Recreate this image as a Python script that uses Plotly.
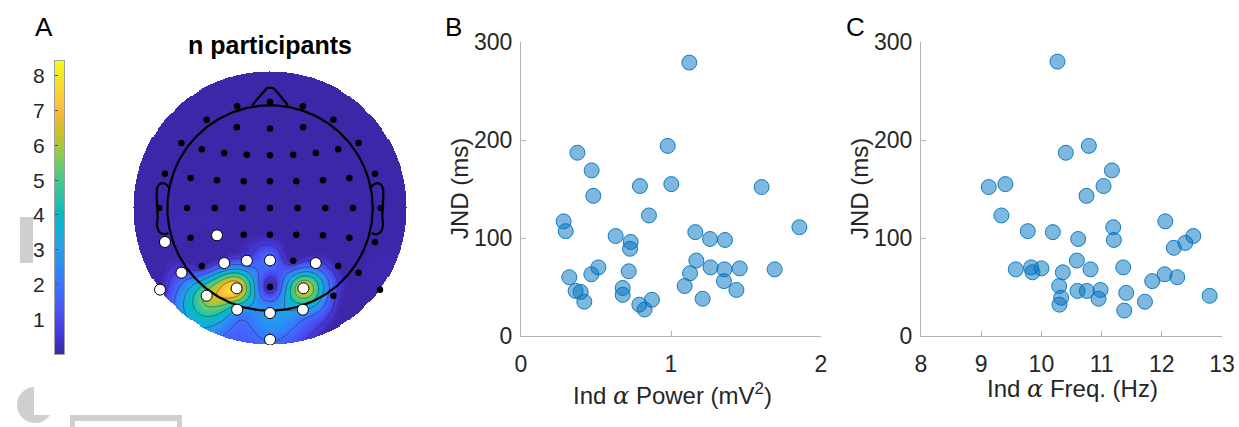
import numpy as np
import plotly.graph_objects as go

# ---------------- data ----------------
# Panel B: individual alpha power (mV^2) vs JND (ms)
power_x = [1.122, 0.978, 0.376, 0.471, 0.793, 1.002, 1.604, 0.482, 0.853, 0.284,
           0.298, 0.631, 0.731, 0.727, 1.162, 1.856, 1.260, 1.360, 0.322, 0.364,
           0.398, 0.422, 0.469, 0.516, 0.678, 0.678, 0.718, 0.789, 0.824, 0.873,
           1.091, 1.127, 1.169, 1.211, 1.264, 1.356, 1.353, 1.436, 1.458, 1.691]
power_jnd = [279, 194, 187, 169, 153, 155, 152, 143, 123, 117,
             107, 102, 96, 89, 106, 111, 99, 98, 60, 46,
             45, 35, 63, 70, 49, 42, 66, 32, 27, 37,
             51, 64, 77, 38, 70, 68, 56, 47, 69, 68]

# Panel C: individual alpha frequency (Hz) vs JND (ms)
freq_x = [10.267, 10.788, 10.406, 11.171, 11.032, 10.749, 9.125, 9.402, 9.336, 9.774,
          10.190, 12.058, 11.193, 11.204, 10.611, 12.523, 12.390, 12.200, 9.574, 9.829,
          9.851, 10.001, 10.356, 10.589, 10.816, 11.359, 10.295, 10.328, 10.300, 10.600,
          10.755, 10.982, 10.949, 11.409, 11.376, 11.720, 11.841, 12.047, 12.257, 12.795]
freq_jnd = [280, 194, 187, 169, 153, 143, 152, 155, 123, 107,
            106, 117, 111, 98, 99, 102, 95, 90, 68, 70,
            65, 69, 65, 77, 68, 70, 51, 39, 32, 46,
            46, 47, 38, 44, 26, 35, 56, 63, 60, 41]

# Panel A: electrode positions (head radius = 1) and n participants per electrode
elec_names = ["Fpz", "Fp1", "Fp2", "AF7", "AF8", "AF3", "AFz", "AF4", "F7", "F8",
              "F5", "F3", "F1", "Fz", "F2", "F4", "F6", "FT7", "FT8",
              "FC5", "FC3", "FC1", "FCz", "FC2", "FC4", "FC6",
              "T7", "C5", "C3", "C1", "Cz", "C2", "C4", "C6", "T8",
              "TP7", "CP5", "CP3", "CP1", "CPz", "CP2", "CP4", "CP6", "TP8",
              "P7", "P5", "P3", "P1", "Pz", "P2", "P4", "P6", "P8",
              "P9", "PO7", "PO3", "POz", "PO4", "PO8", "P10",
              "O1", "Oz", "O2", "Iz"]
elec_x = [0.0, -0.32, 0.32, -0.617, 0.617, -0.323, 0.0, 0.323, -0.862, 0.862,
          -0.664, -0.446, -0.226, 0.0, 0.226, 0.446, 0.664, -1.023, 1.023,
          -0.773, -0.516, -0.256, 0.0, 0.256, 0.516, 0.773,
          -1.078, -0.808, -0.539, -0.269, 0.0, 0.269, 0.539, 0.808, 1.078,
          -1.023, -0.773, -0.516, -0.256, 0.0, 0.256, 0.516, 0.773, 1.023,
          -0.862, -0.664, -0.446, -0.226, 0.0, 0.226, 0.446, 0.664, 0.862,
          -1.071, -0.617, -0.325, 0.0, 0.325, 0.617, 1.071,
          -0.32, 0.0, 0.32, 0.0]
elec_y = [1.032, 0.99, 0.99, 0.86, 0.86, 0.786, 0.773, 0.786, 0.633, 0.633,
          0.571, 0.536, 0.519, 0.513, 0.519, 0.536, 0.571, 0.334, 0.334,
          0.292, 0.269, 0.26, 0.26, 0.26, 0.269, 0.292,
          0.0, 0.0, 0.0, 0.0, 0.0, 0.0, 0.0, 0.0, 0.0,
          -0.331, -0.289, -0.266, -0.26, -0.26, -0.26, -0.266, -0.289, -0.331,
          -0.63, -0.565, -0.536, -0.513, -0.51, -0.513, -0.536, -0.565, -0.63,
          -0.795, -0.854, -0.782, -0.769, -0.782, -0.854, -0.795,
          -0.99, -1.023, -0.99, -1.282]
elec_n = [0, 0, 0, 0, 0, 0, 0, 0, 0, 0,
          0, 0, 0, 0, 0, 0, 0, 0, 0,
          0, 0, 0, 0, 0, 0, 0,
          0, 0, 0, 0, 0, 0, 0, 0, 0,
          0, 0, 0, 0, 0, 0, 0, 0, 0,
          1, 0, 1, 1, 2, 0, 1, 0, 0,
          0, 6, 8, 0, 7, 1, 0,
          3, 3, 3, 2]
# highlighted electrodes (white markers)
highlight = ["TP7", "CP3", "P7", "P3", "P1", "Pz", "P4", "P9", "PO7", "PO3", "PO4",
             "O1", "Oz", "O2", "Iz"]

# colour limits
color_min = 0.0
color_max = 8.43
colorbar_ticks = [1, 2, 3, 4, 5, 6, 7, 8]

# ---------------- styling helpers ----------------
W, H = 1239, 427
def px(x):
    return x / W
def py(y):
    return 1 - y / H

parula = [
    [0.2422, 0.1504, 0.6603], [0.2647, 0.1978, 0.7952], [0.2783, 0.2559, 0.8991],
    [0.2810, 0.3228, 0.9579], [0.2699, 0.3892, 0.9906], [0.2206, 0.4603, 0.9973],
    [0.1786, 0.5289, 0.9682], [0.1540, 0.5902, 0.9218], [0.1248, 0.6459, 0.8883],
    [0.0689, 0.6948, 0.8394], [0.0067, 0.7312, 0.7660], [0.1408, 0.7584, 0.6842],
    [0.2161, 0.7843, 0.5923], [0.3406, 0.8008, 0.4789], [0.5044, 0.7993, 0.3480],
    [0.6720, 0.7793, 0.2227], [0.8203, 0.7498, 0.1535], [0.9393, 0.7288, 0.2100],
    [0.9970, 0.7659, 0.2199], [0.9786, 0.8386, 0.1766], [0.9597, 0.9135, 0.1423],
    [0.9769, 0.9839, 0.0805]]
cscale = [[i / (len(parula) - 1), "rgb(%d,%d,%d)" % tuple(int(round(c * 255)) for c in rgb)]
          for i, rgb in enumerate(parula)]

# ---------------- topographic interpolation (biharmonic spline, as griddata 'v4') ----------------
R_OUT = 1.334          # plotting radius in head-radius units
SQ = 0.5 / R_OUT       # EEGLAB-style squeeze: plotting radius -> 0.5
ex = np.array(elec_x) * SQ
ey = np.array(elec_y) * SQ
ev = np.array(elec_n, dtype=float)

def green(d):
    with np.errstate(divide="ignore", invalid="ignore"):
        g = d ** 2 * (np.log(d) - 1.0)
    g[d == 0] = 0.0
    return g

D = np.hypot(ex[:, None] - ex[None, :], ey[:, None] - ey[None, :])
wts = np.linalg.solve(green(D), ev)

ng = 261
gx = np.linspace(-R_OUT, R_OUT, ng)
GX, GY = np.meshgrid(gx, gx)
Dg = np.hypot(GX.ravel()[:, None] * SQ - ex[None, :], GY.ravel()[:, None] * SQ - ey[None, :])
Z = (green(Dg) @ wts).reshape(ng, ng)
Z[np.hypot(GX, GY) > R_OUT] = np.nan

fig = go.Figure()

# topo map
fig.add_trace(go.Heatmap(x=gx, y=gx, z=Z, colorscale=cscale, zmin=color_min, zmax=color_max,
                         showscale=False, xaxis="x3", yaxis="y3", hoverinfo="skip"))
fig.add_trace(go.Contour(x=gx, y=gx, z=Z, xaxis="x3", yaxis="y3", showscale=False,
                         contours=dict(coloring="none", start=0.7, end=8.0, size=1.2),
                         line=dict(color="rgba(40,40,40,0.6)", width=0.8), hoverinfo="skip"))

# head outline
t = np.linspace(0, 2 * np.pi, 361)
fig.add_trace(go.Scatter(x=np.cos(t), y=np.sin(t), mode="lines", xaxis="x3", yaxis="y3",
                         line=dict(color="black", width=2.2), hoverinfo="skip"))
nose_x = [-0.175, -0.05, -0.03, -0.01, 0.01, 0.03, 0.05, 0.175]
nose_y = [1.0, 1.15, 1.166, 1.173, 1.173, 1.166, 1.15, 1.0]
fig.add_trace(go.Scatter(x=nose_x, y=nose_y, mode="lines", xaxis="x3", yaxis="y3",
                         line=dict(color="black", width=2.2), hoverinfo="skip"))
ear_x = [-0.975, -1.02, -1.075, -1.1, -1.1, -1.094, -1.1, -1.078, -1.03, -0.99]
ear_y = [0.19, 0.237, 0.232, 0.19, 0.042, -0.088, -0.17, -0.234, -0.256, -0.243]
fig.add_trace(go.Scatter(x=ear_x, y=ear_y, mode="lines", xaxis="x3", yaxis="y3",
                         line=dict(color="black", width=2.2, shape="spline"), hoverinfo="skip"))
fig.add_trace(go.Scatter(x=[-v for v in ear_x], y=ear_y, mode="lines", xaxis="x3", yaxis="y3",
                         line=dict(color="black", width=2.2, shape="spline"), hoverinfo="skip"))

hl = [i for i, nm in enumerate(elec_names) if nm in highlight]
other = [i for i, nm in enumerate(elec_names) if nm not in highlight]
fig.add_trace(go.Scatter(x=[elec_x[i] for i in other], y=[elec_y[i] for i in other],
                         mode="markers", xaxis="x3", yaxis="y3",
                         marker=dict(color="black", size=6.5), hovertext=[elec_names[i] for i in other]))
fig.add_trace(go.Scatter(x=[elec_x[i] for i in hl], y=[elec_y[i] for i in hl],
                         mode="markers", xaxis="x3", yaxis="y3",
                         marker=dict(color="white", size=11, line=dict(color="black", width=1)),
                         hovertext=[elec_names[i] for i in hl]))

# colorbar as a column heatmap
cb_vals = np.linspace(color_min, color_max, 300)
fig.add_trace(go.Heatmap(x=[0], y=cb_vals, z=[[v] for v in cb_vals], colorscale=cscale,
                         zmin=color_min, zmax=color_max, showscale=False, xaxis="x4", yaxis="y4",
                         hoverinfo="skip"))

# scatter panels
mk = dict(size=15, color="rgba(0,114,189,0.5)", line=dict(color="rgba(0,114,189,0.9)", width=1))
fig.add_trace(go.Scatter(x=power_x, y=power_jnd, mode="markers", marker=mk, xaxis="x", yaxis="y"))
fig.add_trace(go.Scatter(x=freq_x, y=freq_jnd, mode="markers", marker=mk, xaxis="x2", yaxis="y2"))

FONT = "Liberation Sans, Arial, sans-serif"
TC = "#262626"
AX = "#b3b3b3"
common_x = dict(showline=True, linecolor=AX, linewidth=1, ticks="inside", ticklen=5, tickcolor=AX,
                showgrid=False, zeroline=False, tickfont=dict(size=23, color=TC, family=FONT),
                ticklabelstandoff=7, automargin=False)
common_y = dict(showline=True, linecolor=AX, linewidth=1, ticks="inside", ticklen=5, tickcolor=AX,
                showgrid=False, zeroline=False, tickfont=dict(size=23, color=TC, family=FONT),
                ticklabelstandoff=3, range=[0, 300], tickvals=[0, 100, 200, 300], automargin=False)

fig.update_layout(
    width=W, height=H, margin=dict(l=0, r=0, t=0, b=0, autoexpand=False),
    paper_bgcolor="white", plot_bgcolor="white", showlegend=False,
    font=dict(family=FONT, color=TC),
    xaxis=dict(domain=[px(521), px(821)], range=[0, 2], tickvals=[0, 1, 2], anchor="y", **common_x),
    yaxis=dict(domain=[py(336), py(42)], anchor="x", **common_y),
    xaxis2=dict(domain=[px(921), px(1222)], range=[8, 13], tickvals=[8, 9, 10, 11, 12, 13], anchor="y2", **common_x),
    yaxis2=dict(domain=[py(336), py(42)], anchor="x2", **common_y),
    xaxis3=dict(domain=[px(133), px(407)], range=[-R_OUT, R_OUT], visible=False, anchor="y3", automargin=False),
    yaxis3=dict(domain=[py(345), py(71)], range=[-R_OUT, R_OUT], visible=False, anchor="x3", automargin=False),
    xaxis4=dict(domain=[px(55), px(64)], range=[-0.5, 0.5], showticklabels=False, ticks="",
                showline=True, mirror=True, linecolor="#a0a0a0", linewidth=1, showgrid=False,
                zeroline=False, anchor="y4", automargin=False),
    yaxis4=dict(domain=[py(354), py(61)], range=[color_min, color_max], tickvals=colorbar_ticks, ticks="inside",
                ticklen=3, tickcolor="#555555", showline=True, mirror=True, linecolor="#a0a0a0",
                linewidth=1, showgrid=False, zeroline=False, ticklabelstandoff=5, automargin=False,
                tickfont=dict(size=21, color=TC, family=FONT), anchor="x4"),
)

def ann(text, x, y, size, **kw):
    fig.add_annotation(text=text, x=px(x), y=py(y), xref="paper", yref="paper", showarrow=False,
                       xanchor="center", yanchor="middle",
                       font=dict(size=size, family=FONT, color=kw.pop("color", TC)), **kw)

ann("A", 44, 27, 26, color="black")
ann("B", 453, 27, 26, color="black")
ann("C", 855, 27, 26, color="black")
ann("<b>n participants</b>", 270, 45, 25, color="black")
ann("JND (ms)", 459, 189, 24, textangle=-90)
ann("JND (ms)", 859, 189, 24, textangle=-90)
alpha = "<span style='font-family:DejaVu Serif'><i>α</i></span>"
ann("Ind " + alpha + " Power (mV<sup>2</sup>)", 672, 394, 24)
ann("Ind " + alpha + " Freq. (Hz)", 1072, 389, 24)

# page artefacts (grey shapes partly hidden by a white box)
def rect(x0, y0, x1, y1, color):
    fig.add_shape(type="rect", xref="paper", yref="paper", x0=px(x0), x1=px(x1), y0=py(y1), y1=py(y0),
                  fillcolor=color, line=dict(width=0), layer="below")
def circ(x0, y0, x1, y1, color):
    fig.add_shape(type="circle", xref="paper", yref="paper", x0=px(x0), x1=px(x1), y0=py(y1), y1=py(y0),
                  fillcolor=color, line=dict(width=0), layer="below")
rect(20, 217, 33, 263, "#cfcfcf")
circ(17, 387, 53, 423, "#cfcfcf")
rect(34, 370, 70, 415, "white")
rect(70, 415, 182, 427, "#cfcfcf")
rect(75, 421, 177, 427, "white")

fig.write_html("out.html", config={"displayModeBar": False},
               post_script="document.body.style.margin='0px';document.body.style.padding='0px';")
